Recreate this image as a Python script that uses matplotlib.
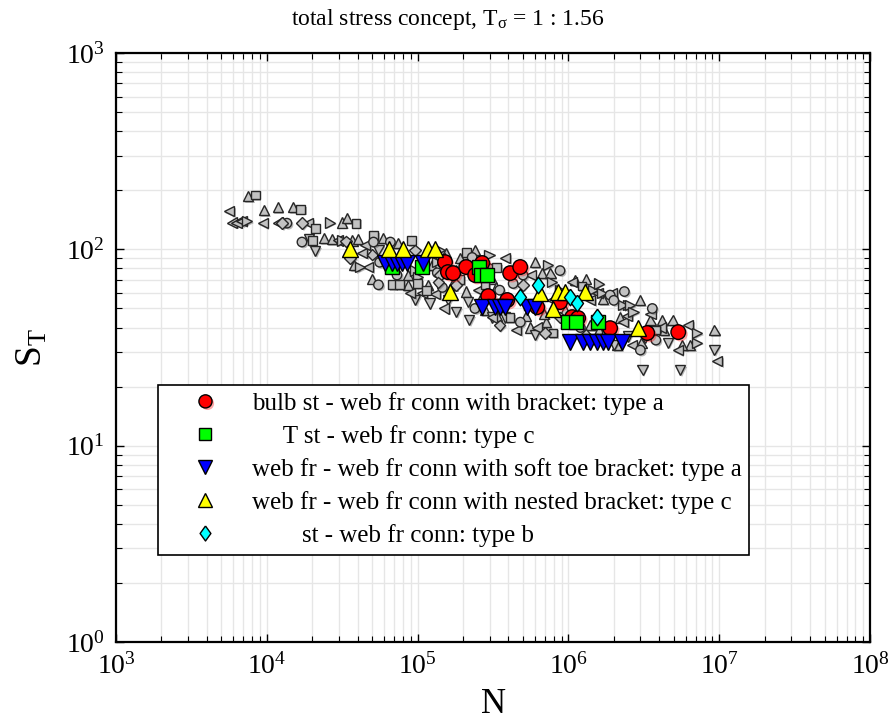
import matplotlib
matplotlib.use("Agg")
import matplotlib.pyplot as plt
import matplotlib.patheffects as pe
from matplotlib.ticker import LogLocator, NullFormatter
import numpy as np

plt.rcParams['font.family'] = ['Liberation Serif', 'DejaVu Serif']
plt.rcParams['mathtext.fontset'] = 'custom'
plt.rcParams['mathtext.rm'] = 'Liberation Serif'
plt.rcParams['mathtext.it'] = 'Liberation Serif:italic'
plt.rcParams['mathtext.bf'] = 'Liberation Serif:bold'

# ---------------- data ----------------
red_N = [1.52e5, 1.59e5, 1.72e5, 2.10e5, 2.68e5, 2.41e5, 4.11e5, 4.79e5, 2.94e5,
         3.93e5, 6.21e5, 8.8e5, 1.06e6, 1.16e6, 1.89e6, 3.33e6, 5.35e6]
red_S = [86.1, 76.6, 75.7, 81.3, 85.2, 74.0, 75.7, 81.3, 57.8,
         55.2, 50.8, 53.9, 45.2, 44.7, 39.7, 37.5, 37.9]

green_N = [6.78e4, 1.07e5, 2.56e5, 2.64e5, 2.89e5, 9.96e5, 1.12e6, 1.57e6]
green_S = [81.3, 81.3, 81.3, 74.0, 74.0, 42.6, 42.6, 42.6]

blue_N = [6.08e4, 6.78e4, 7.31e4, 7.89e4, 8.51e4, 1.09e5,
          2.68e5, 3.27e5, 3.52e5, 3.80e5, 5.32e5, 6.01e5,
          1.03e6, 1.25e6, 1.39e6, 1.55e6, 1.70e6, 1.84e6, 2.27e6]
blue_S = [85.2, 85.2, 85.2, 85.2, 85.2, 85.2,
          50.8, 50.8, 50.8, 50.8, 50.8, 50.8,
          33.7, 33.7, 33.7, 33.7, 33.7, 33.7, 33.7]

yellow_N = [3.56e4, 6.47e4, 8.02e4, 1.17e5, 1.31e5, 1.64e5, 6.50e5, 7.93e5,
            8.55e5, 9.51e5, 1.29e6, 2.90e6]
yellow_S = [100, 101, 101, 101, 101, 60.6, 59.8, 49.6, 60.6, 60.6, 60.6, 39.7]

cyan_N = [4.79e5, 6.30e5, 1.03e6, 1.14e6, 1.55e6]
cyan_S = [57.1, 65.8, 57.1, 53.2, 45.2]

grey_up_N = [7.5e3, 9.6e3, 1.18e4, 1.49e4, 3.17e4, 3.4e4, 2.4e4, 2.7e4, 3.7e4, 4.0e4,
             5.0e4, 5.9e4, 8.6e4, 1.17e5, 8.6e4, 2.1e5, 1.91e5, 3.1e5, 1.8e5, 2.6e5,
             2.8e5, 6.7e5, 7.6e5, 3.3e5, 1.7e6, 3.35e5, 5.6e5, 7.1e5, 2.2e6, 1.1e6,
             9.5e5, 3.5e6, 4.2e6, 4.9e6, 6.4e6, 5.7e6, 3.05e6, 2.1e6, 9.3e6, 1.6e6,
             1.55e5, 1.7e5, 5.2e5, 1.4e6, 1.25e5, 7.4e4, 2.4e5, 6.0e5, 1.3e6, 3.0e6,
             6.9e5, 1.9e6, 4.3e6, 3.8e4]
grey_up_S = [187, 158, 164, 164, 137, 144, 114, 113, 111, 113,
             71, 114, 66, 66, 74, 61, 90, 71, 78, 55,
             49, 76, 76, 64, 56, 46, 40, 42.6, 45, 70,
             49, 43.6, 43.6, 43.6, 32.5, 32.5, 33.5, 32.5, 38.8, 39,
             96, 66, 46, 41, 83, 108, 99, 86, 71, 55,
             47, 35.5, 38.8, 83]

grey_down_N = [1.9e4, 2.1e4, 2.15e5, 3.1e5, 1.6e5, 3.8e5, 6.0e5, 2.0e6, 4.6e6, 3.2e6,
               3.1e6, 5.5e6, 9.3e6, 9.6e4, 2.2e5, 2.5e6, 5.5e4, 1.8e5, 1.2e5]
grey_down_S = [113, 98, 54, 45, 55, 45, 36.6, 32.5, 33.5, 35.5,
               24.3, 24.3, 30.7, 55, 43.6, 36, 99, 48, 53]

grey_left_N = [5.6e3, 5.9e3, 6.3e3, 6.8e3, 9.4e3, 1.18e4, 1.88e4, 2.95e4, 4.3e4, 4.7e4,
               1.07e5, 1.31e5, 2.5e5, 5.6e5, 1.56e6, 3.1e5, 6.2e5, 2.3e6, 1.39e6, 2.45e6,
               3.5e6, 4.1e6, 5.3e6, 9.7e6, 1.4e5, 8.9e4, 4.5e5, 1.06e6, 4.5e4, 3.8e5,
               1.95e6, 7.8e5, 2.65e6, 6.2e6, 1.5e5]
grey_left_S = [157, 137, 137, 139, 136, 137, 136, 111, 96, 81,
               60, 59, 62, 74, 60, 45, 40, 42.6, 55, 46,
               47, 40, 30.7, 27, 90, 60, 38.8, 68, 105, 90,
               60, 55, 32.5, 41, 50]

grey_right_N = [7.4e3, 2.63e4, 3.15e4, 4.16e4, 9.6e4, 3.1e5, 1.35e5, 7.8e5, 2.5e6, 8.8e5,
                2.3e6, 2.57e6, 2.7e6, 7.1e6, 7.1e6, 1.0e5, 1.8e6, 1.46e6, 1.67e6, 1.41e5,
                3.0e5, 7.3e5, 1.6e6]
grey_right_S = [139, 137, 111, 81, 78, 81, 86, 68, 52, 62,
                52, 52, 48, 37.5, 33.5, 72, 38.8, 62, 60, 99,
                94, 83, 67]

grey_square_N = [8.4e3, 1.68e4, 2.1e4, 3.9e4, 2.0e4, 5.1e4, 6.8e4, 7.6e4, 1.0e5, 1.91e5,
                 2.1e5, 2.8e5, 3.35e5, 7.9e5, 1.23e6, 1.14e5, 4.1e5, 3.8e6, 9.1e4, 5.4e5]
grey_square_S = [189, 160, 128, 136, 111, 118, 66, 66, 67, 70,
                 96, 66, 81, 37.5, 65, 62, 45, 38.8, 111, 52]

grey_circle_N = [1.36e4, 1.71e4, 5.1e4, 6.6e4, 7.3e4, 1.46e5, 2.3e5, 3.5e5, 5.0e5, 4.3e5,
                 1.89e6, 1.2e6, 3.6e6, 3.0e6, 1.35e5, 4.8e5, 2.0e6, 5.6e4, 8.8e5, 2.35e6,
                 2.4e5, 3.8e6, 5.5e4]
grey_circle_S = [136, 109, 109, 109, 74, 64, 91, 62, 74, 67,
                 58.5, 40, 50, 30.7, 76, 42.6, 55, 86, 78, 61,
                 50, 34.5, 66]

grey_diamond_N = [1.26e4, 1.71e4, 3.35e4, 3.57e4, 5.0e4, 1.41e5, 1.8e5, 5.0e5, 7.0e5, 8.8e5,
                  1.37e5, 3.5e5, 1.3e6, 9.6e4]
grey_diamond_S = [136, 136, 110, 90, 94, 74, 66, 66, 37.5, 45,
                  68, 41, 36.6, 99]

legend_labels = [
    "bulb st - web fr conn with bracket: type a",
    "     T st - web fr conn: type c",
    "web fr - web fr conn with soft toe bracket: type a",
    "web fr - web fr conn with nested bracket: type c",
    "        st - web fr conn: type b",
]
title_text = r"total stress concept, T$_{\mathregular{σ}}$ = 1 : 1.56"

# ---------------- figure ----------------
fig = plt.figure(figsize=(8.95, 7.20), dpi=100)
ax = fig.add_axes([0.1296, 0.1083, 0.8425, 0.818])
ax.set_xscale('log')
ax.set_yscale('log')
ax.set_xlim(1e3, 1e8)
ax.set_ylim(1e0, 1e3)

shadow = [pe.withSimplePatchShadow(offset=(1.2, -1.2), shadow_rgbFace=(0.2, 0.2, 0.2),
                                   alpha=0.35)]
grey_face = '#c2c2c2'
grey_edge = '#262626'
gkw = dict(linestyle='none', markerfacecolor=grey_face, markeredgecolor=grey_edge,
           markeredgewidth=1.0, zorder=3, path_effects=shadow)
ax.plot(grey_up_N, grey_up_S, marker='^', markersize=7.3, **gkw)
ax.plot(grey_down_N, grey_down_S, marker='v', markersize=7.3, **gkw)
ax.plot(grey_left_N, grey_left_S, marker='<', markersize=7.3, **gkw)
ax.plot(grey_right_N, grey_right_S, marker='>', markersize=7.3, **gkw)
ax.plot(grey_square_N, grey_square_S, marker='s', markersize=6.3, **gkw)
ax.plot(grey_circle_N, grey_circle_S, marker='o', markersize=6.8, **gkw)
ax.plot(grey_diamond_N, grey_diamond_S, marker='D', markersize=5.8, **gkw)

diamond_marker = [(0, 1), (0.72, 0), (0, -1), (-0.72, 0), (0, 1)]
ckw = dict(linestyle='none', markeredgecolor='black', markeredgewidth=1.0)
h_red, = ax.plot(red_N, red_S, marker='o', markersize=10.5, markerfacecolor='#ff0000',
                 zorder=4, label=legend_labels[0],
                 path_effects=[pe.withSimplePatchShadow(offset=(1.5, -1.5),
                                                        shadow_rgbFace=(1, 0, 0),
                                                        alpha=0.35)], **ckw)
h_green, = ax.plot(green_N, green_S, marker='s', markersize=9.5, markerfacecolor='#00ff00',
                   zorder=5, label=legend_labels[1], **ckw)
h_blue, = ax.plot(blue_N, blue_S, marker='v', markersize=11, markerfacecolor='#0000ff',
                  zorder=6, label=legend_labels[2], **ckw)
h_yel, = ax.plot(yellow_N, yellow_S, marker='^', markersize=11, markerfacecolor='#ffff00',
                 zorder=7, label=legend_labels[3], **ckw)
h_cyan, = ax.plot(cyan_N, cyan_S, marker=diamond_marker, markersize=12,
                  markerfacecolor='#00ffff', zorder=8, label=legend_labels[4], **ckw)

# grid & ticks
ax.xaxis.set_major_locator(LogLocator(base=10, numticks=10))
ax.yaxis.set_major_locator(LogLocator(base=10, numticks=10))
ax.xaxis.set_minor_locator(LogLocator(base=10, subs=np.arange(2, 10), numticks=10))
ax.yaxis.set_minor_locator(LogLocator(base=10, subs=np.arange(2, 10), numticks=10))
ax.xaxis.set_minor_formatter(NullFormatter())
ax.yaxis.set_minor_formatter(NullFormatter())
ax.grid(True, which='both', color='#e6e6e6', linewidth=1.0, zorder=0)
ax.set_axisbelow(True)
ax.tick_params(which='both', direction='in', top=True, right=True, colors='black')
ax.tick_params(which='major', length=6, width=1.0, labelsize=20, pad=8)
ax.tick_params(which='minor', length=4, width=0.8)
for s in ax.spines.values():
    s.set_linewidth(1.6)

ax.set_xlabel('N', fontsize=25, labelpad=6)
ax.set_ylabel(r'S$_{\mathregular{T}}$', fontsize=27, labelpad=12)
fig.text(0.5, 0.973, title_text, ha='center', va='center', fontsize=17)

leg = ax.legend(handles=[h_red, h_green, h_blue, h_yel, h_cyan],
                loc='upper left', bbox_to_anchor=(0.0557, 0.437), fontsize=18,
                frameon=True, fancybox=False, edgecolor='black', framealpha=1,
                borderpad=0.3, labelspacing=0.4, handletextpad=0.25,
                markerscale=0.9, handlelength=3.2, borderaxespad=0)
leg.get_frame().set_linewidth(1.2)
leg.set_zorder(20)

fig.savefig('out.png', dpi=100)
